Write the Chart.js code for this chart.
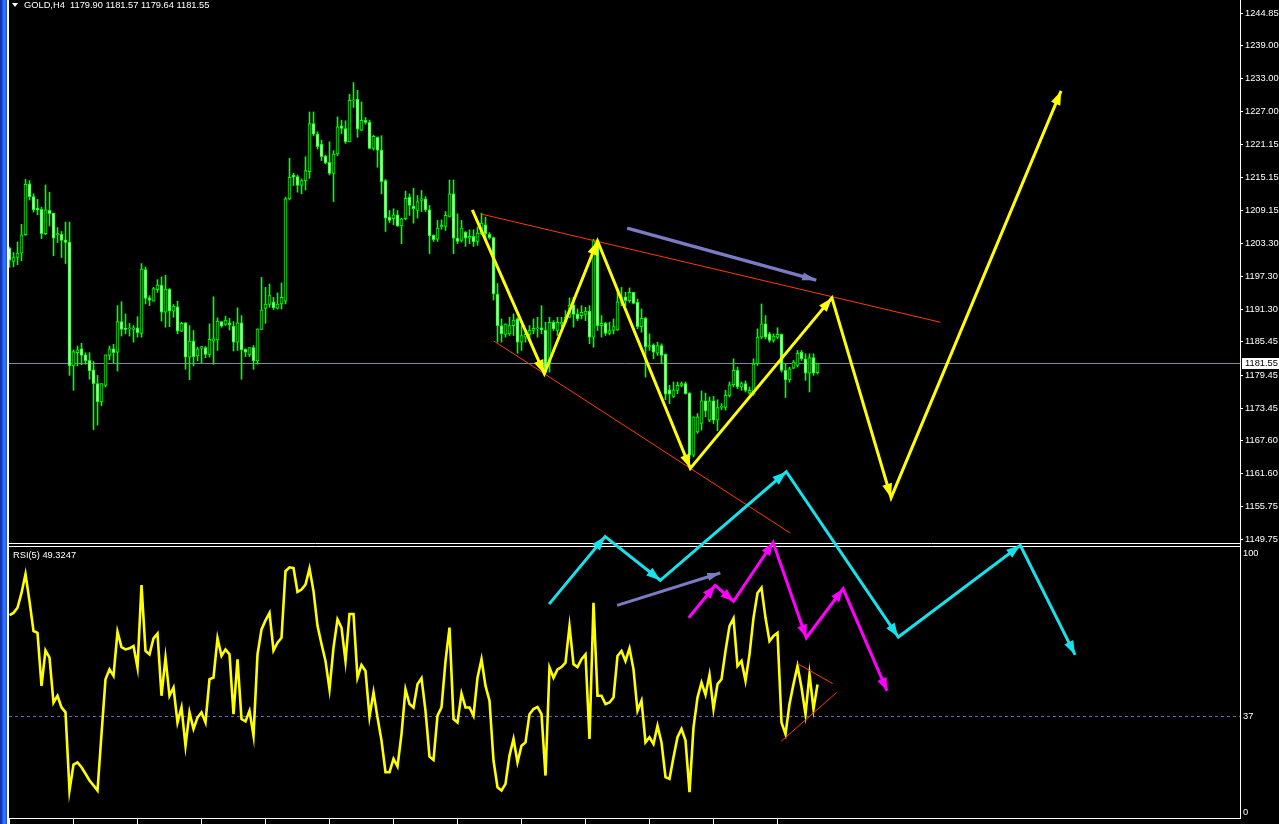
<!DOCTYPE html>
<html>
<head>
<meta charset="utf-8">
<title>GOLD,H4</title>
<script src="https://cdn.jsdelivr.net/npm/chart.js@4.4.1/dist/chart.umd.min.js"></script>
<style>
  html, body { margin: 0; padding: 0; background: #000; overflow: hidden; }
  #wrap { position: relative; width: 1279px; height: 824px; }
  #myChart { position: absolute; left: 0; top: 0; }
  #strip { position: absolute; left: 0; top: 0; width: 7px; height: 824px;
    background: linear-gradient(to right, #0a2a9a 0px, #1346d8 2px, #3a7cff 4px, #2a62f0 6px, #1848d0 7px); }
  #edge { position: absolute; left: 7px; top: 0; width: 2px; height: 824px; background: #fff; }
  .txt { position: absolute; color: #fff; font: 9.3px "Liberation Sans", Arial, sans-serif; white-space: pre; line-height: 10px; }
  #tri { position: absolute; left: 12px; top: 3px; width: 0; height: 0;
    border-left: 3px solid transparent; border-right: 3px solid transparent; border-top: 4px solid #fff; }
</style>
</head>
<body>
<div id="wrap">
  <canvas id="myChart" width="1279" height="824"></canvas>
  <div id="strip"></div>
  <div id="edge"></div>
  <div id="tri"></div>
  <div class="txt" id="head" style="left:24px;top:0px"></div>
  <div class="txt" id="rsiHead" style="left:13px;top:550px"></div>
</div>
<script>
const symbol = 'GOLD,H4';

// H4 candles, oldest first
const open = [
  1202.4, 1200.0, 1200.7, 1201.5, 1204.8, 1214.0, 1211.7, 1209.6, 1209.4, 1205.0,
  1209.2, 1208.7, 1204.8, 1204.9, 1203.9, 1203.5, 1181.1, 1183.5, 1184.2, 1183.1,
  1182.1, 1180.4, 1177.9, 1174.6, 1177.6, 1183.0, 1184.2, 1183.6, 1189.1, 1187.9,
  1187.8, 1187.7, 1188.0, 1187.0, 1198.5, 1193.4, 1192.8, 1194.9, 1195.7, 1190.8,
  1195.0, 1191.0, 1191.8, 1187.4, 1188.9, 1182.7, 1185.6, 1182.9, 1184.3, 1184.4,
  1183.2, 1185.6, 1185.8, 1189.1, 1188.6, 1188.9, 1188.3, 1185.4, 1188.9, 1184.1,
  1183.1, 1184.4, 1182.0, 1187.7, 1191.5, 1192.2, 1192.7, 1191.5, 1192.3, 1192.8,
  1211.3, 1215.6, 1215.3, 1213.7, 1214.6, 1216.2, 1224.9, 1223.0, 1221.2, 1219.0,
  1217.9, 1215.9, 1219.4, 1224.5, 1224.0, 1221.6, 1229.0, 1229.3, 1223.7, 1225.5,
  1225.1, 1220.4, 1222.4, 1220.1, 1214.6, 1208.0, 1207.7, 1208.4, 1206.4, 1207.7,
  1211.6, 1210.0, 1209.2, 1211.0, 1211.3, 1209.3, 1204.7, 1204.0, 1206.2, 1206.3,
  1208.1, 1212.2, 1204.2, 1203.8, 1205.3, 1204.2, 1204.5, 1203.6, 1205.0, 1206.6,
  1204.9, 1204.3, 1194.1, 1188.4, 1186.8, 1186.9, 1188.4, 1189.6, 1185.4, 1186.3,
  1186.8, 1187.5, 1187.8, 1188.0, 1187.6, 1181.5, 1189.0, 1187.5, 1188.7, 1189.0,
  1189.9, 1192.1, 1190.5, 1190.2, 1190.4, 1191.0, 1186.3, 1203.7, 1188.4, 1188.8,
  1187.0, 1187.5, 1187.6, 1192.6, 1193.6, 1192.9, 1194.4, 1192.6, 1188.2, 1189.7,
  1184.5, 1184.9, 1183.4, 1184.8, 1183.2, 1176.8, 1175.6, 1176.7, 1177.6, 1177.9,
  1176.2, 1165.0, 1169.2, 1170.7, 1174.8, 1171.3, 1174.8, 1171.3, 1173.6, 1173.6,
  1175.8, 1177.7, 1180.3, 1177.3, 1177.9, 1176.2, 1176.1, 1181.5, 1186.3, 1188.7,
  1186.9, 1185.7, 1186.3, 1186.8, 1180.3, 1178.6, 1180.7, 1181.2, 1183.6, 1182.4,
  1179.8, 1182.6, 1179.90
];
const high = [
  1202.6, 1201.6, 1203.5, 1206.7, 1214.8, 1214.6, 1212.2, 1211.2, 1209.8, 1213.8,
  1212.5, 1208.7, 1206.1, 1205.4, 1207.1, 1207.1, 1184.0, 1184.7, 1185.2, 1183.5,
  1183.5, 1181.9, 1179.4, 1177.9, 1183.1, 1184.7, 1185.0, 1192.0, 1192.7, 1190.5,
  1188.8, 1188.4, 1190.0, 1199.6, 1199.0, 1193.8, 1195.3, 1196.7, 1197.2, 1197.5,
  1195.1, 1192.2, 1192.8, 1189.0, 1189.0, 1188.4, 1187.5, 1184.5, 1184.6, 1184.6,
  1188.7, 1193.6, 1189.8, 1189.1, 1190.1, 1189.7, 1189.1, 1191.6, 1190.2, 1184.2,
  1184.4, 1184.8, 1187.8, 1197.1, 1195.3, 1195.9, 1193.5, 1194.3, 1196.1, 1211.6,
  1218.6, 1215.9, 1215.6, 1214.9, 1218.9, 1227.0, 1227.0, 1223.4, 1221.9, 1219.2,
  1221.6, 1220.0, 1226.1, 1225.5, 1225.4, 1230.2, 1232.3, 1230.9, 1228.8, 1226.0,
  1225.5, 1222.8, 1222.5, 1222.7, 1214.8, 1209.2, 1209.5, 1209.2, 1207.8, 1212.7,
  1212.2, 1213.2, 1211.9, 1212.8, 1211.7, 1210.1, 1204.8, 1207.4, 1207.5, 1209.0,
  1214.7, 1214.7, 1208.6, 1207.4, 1205.4, 1205.7, 1205.7, 1206.2, 1208.7, 1208.0,
  1205.2, 1204.4, 1196.0, 1189.6, 1188.7, 1189.9, 1190.5, 1189.8, 1188.4, 1187.6,
  1188.4, 1189.6, 1189.9, 1192.0, 1189.0, 1189.9, 1189.3, 1189.9, 1189.9, 1191.1,
  1193.4, 1193.5, 1191.4, 1192.0, 1191.7, 1192.0, 1204.0, 1203.8, 1190.2, 1189.0,
  1189.0, 1189.6, 1195.0, 1195.3, 1194.4, 1195.2, 1194.4, 1193.2, 1191.4, 1189.9,
  1186.9, 1185.1, 1185.4, 1185.1, 1183.3, 1177.6, 1178.2, 1178.2, 1178.2, 1178.2,
  1176.3, 1171.9, 1172.5, 1176.6, 1176.2, 1175.5, 1175.6, 1175.0, 1174.3, 1176.7,
  1178.2, 1182.4, 1180.9, 1178.2, 1178.4, 1177.3, 1182.4, 1187.8, 1192.3, 1190.2,
  1187.2, 1186.9, 1188.0, 1186.9, 1181.4, 1180.9, 1182.1, 1183.9, 1183.9, 1183.3,
  1183.3, 1183.3, 1181.57
];
const low = [
  1198.9, 1199.0, 1199.4, 1200.1, 1204.7, 1211.1, 1208.9, 1208.4, 1204.1, 1204.8,
  1206.4, 1201.0, 1203.4, 1200.7, 1199.6, 1179.4, 1176.7, 1181.1, 1181.3, 1181.4,
  1178.7, 1169.6, 1170.4, 1173.9, 1177.3, 1182.2, 1181.7, 1180.2, 1186.5, 1186.9,
  1186.5, 1185.4, 1186.3, 1186.3, 1192.3, 1192.0, 1192.8, 1194.4, 1189.2, 1188.1,
  1188.2, 1189.9, 1186.9, 1187.3, 1180.5, 1178.6, 1181.1, 1182.0, 1181.7, 1182.6,
  1182.7, 1181.4, 1183.9, 1188.1, 1188.4, 1187.6, 1183.8, 1183.9, 1178.7, 1182.8,
  1182.8, 1180.5, 1181.4, 1187.7, 1188.8, 1191.7, 1191.3, 1191.4, 1191.4, 1192.3,
  1211.1, 1213.7, 1212.5, 1212.2, 1212.9, 1215.0, 1222.7, 1220.3, 1218.2, 1217.6,
  1215.6, 1210.8, 1219.1, 1223.1, 1221.3, 1221.6, 1227.8, 1222.4, 1223.6, 1224.8,
  1220.3, 1220.1, 1217.0, 1212.2, 1205.4, 1207.0, 1206.6, 1206.3, 1203.2, 1207.5,
  1208.3, 1206.9, 1207.8, 1209.0, 1209.0, 1201.4, 1203.6, 1203.6, 1205.8, 1205.6,
  1208.0, 1201.4, 1203.2, 1203.5, 1202.7, 1203.2, 1202.7, 1202.9, 1204.8, 1203.8,
  1204.0, 1193.0, 1185.4, 1185.4, 1186.3, 1186.6, 1186.6, 1183.4, 1183.9, 1185.4,
  1185.7, 1186.9, 1186.3, 1186.9, 1179.8, 1180.0, 1187.5, 1186.6, 1188.1, 1188.7,
  1189.8, 1188.1, 1189.3, 1189.6, 1189.3, 1185.1, 1184.5, 1187.5, 1186.3, 1186.6,
  1186.7, 1186.9, 1187.5, 1192.0, 1192.0, 1192.6, 1192.3, 1187.8, 1187.2, 1179.1,
  1183.9, 1182.4, 1183.0, 1181.5, 1175.0, 1174.3, 1175.4, 1176.1, 1177.3, 1176.0,
  1164.4, 1164.7, 1168.9, 1169.5, 1171.9, 1171.0, 1170.7, 1169.4, 1173.2, 1173.1,
  1175.5, 1177.3, 1177.0, 1176.7, 1176.4, 1176.0, 1175.8, 1181.2, 1186.0, 1186.0,
  1185.4, 1185.4, 1186.0, 1180.0, 1175.4, 1178.2, 1180.6, 1180.9, 1182.1, 1178.5,
  1176.4, 1179.4, 1179.64
];
const close = [
  1200.2, 1200.7, 1201.5, 1204.8, 1213.9, 1211.7, 1209.3, 1209.3, 1205.0, 1209.3,
  1208.6, 1204.2, 1205.0, 1203.8, 1203.4, 1181.1, 1183.7, 1184.0, 1183.0, 1182.0,
  1180.2, 1177.9, 1174.6, 1177.9, 1183.1, 1184.2, 1183.5, 1189.1, 1187.7, 1187.7,
  1187.9, 1188.0, 1187.1, 1198.6, 1193.3, 1193.0, 1195.1, 1195.7, 1190.8, 1195.0,
  1191.0, 1191.9, 1187.4, 1188.8, 1182.7, 1185.6, 1182.8, 1184.2, 1184.6, 1183.2,
  1185.9, 1186.0, 1189.2, 1188.3, 1189.4, 1188.5, 1185.4, 1188.9, 1184.0, 1183.6,
  1184.4, 1182.0, 1187.8, 1191.2, 1192.3, 1193.8, 1191.6, 1192.3, 1193.5, 1211.3,
  1215.2, 1215.2, 1213.7, 1214.6, 1216.4, 1224.9, 1223.0, 1220.7, 1218.9, 1217.8,
  1215.9, 1219.4, 1224.3, 1224.0, 1221.6, 1229.1, 1229.1, 1223.9, 1225.5, 1225.1,
  1220.4, 1222.6, 1220.1, 1214.4, 1207.8, 1207.4, 1208.4, 1206.4, 1207.7, 1211.4,
  1210.1, 1209.5, 1210.8, 1211.3, 1209.3, 1204.6, 1203.9, 1206.0, 1206.5, 1208.3,
  1212.2, 1204.2, 1203.6, 1206.0, 1204.2, 1204.5, 1203.5, 1205.1, 1206.9, 1205.0,
  1204.3, 1194.1, 1188.4, 1186.9, 1188.7, 1188.4, 1189.4, 1185.4, 1186.6, 1186.8,
  1187.6, 1187.9, 1188.0, 1187.6, 1180.0, 1189.0, 1187.8, 1189.0, 1189.0, 1189.9,
  1192.1, 1190.4, 1189.6, 1190.8, 1191.0, 1186.3, 1203.7, 1188.4, 1188.8, 1187.0,
  1187.5, 1188.2, 1192.7, 1193.6, 1192.9, 1194.4, 1192.4, 1188.2, 1189.7, 1184.6,
  1184.8, 1183.6, 1184.8, 1183.0, 1176.0, 1176.0, 1176.8, 1177.6, 1177.9, 1176.1,
  1165.0, 1171.9, 1171.9, 1174.8, 1173.0, 1174.8, 1171.3, 1173.6, 1173.8, 1175.8,
  1177.7, 1180.3, 1177.3, 1177.9, 1176.7, 1176.7, 1181.5, 1186.3, 1188.7, 1186.3,
  1185.7, 1186.5, 1186.8, 1180.3, 1178.6, 1180.6, 1181.8, 1183.4, 1182.4, 1179.8,
  1182.6, 1179.8, 1181.55
];

// RSI(5) per candle
const rsi = [
  76.1, 77.0, 79.0, 84.7, 92.0, 81.5, 70.0, 69.3, 48.8, 62.5,
  59.7, 42.4, 45.0, 40.5, 38.6, 8.4, 18.4, 19.3, 17.4, 14.9,
  12.3, 10.4, 8.4, 30.2, 51.4, 55.2, 52.7, 69.7, 63.8, 62.9,
  63.3, 64.2, 55.9, 87.7, 62.3, 61.0, 67.2, 69.0, 45.0, 59.7,
  45.0, 48.2, 34.7, 40.5, 25.7, 38.6, 32.2, 36.6, 38.6, 34.7,
  51.4, 52.0, 67.2, 60.4, 62.9, 61.0, 37.9, 59.1, 36.0, 35.1,
  39.2, 29.6, 61.0, 70.6, 74.1, 77.0, 62.5, 65.5, 67.4, 93.1,
  94.6, 94.3, 85.1, 86.0, 87.9, 94.1, 85.4, 72.0, 65.0, 58.4,
  47.5, 63.6, 74.5, 71.3, 58.4, 76.6, 76.6, 52.0, 56.9, 54.6,
  36.9, 46.3, 36.6, 27.7, 15.5, 15.5, 20.6, 17.7, 30.2, 47.5,
  41.8, 40.5, 49.5, 51.8, 39.2, 21.5, 20.2, 37.3, 40.5, 58.4,
  71.3, 36.0, 34.7, 45.9, 40.5, 40.5, 37.3, 52.0, 59.1, 48.8,
  43.1, 20.0, 9.7, 8.4, 11.0, 21.9, 28.3, 19.3, 25.7, 27.0,
  37.9, 39.9, 40.7, 37.9, 14.2, 55.9, 52.0, 55.2, 56.1, 57.8,
  71.9, 57.2, 56.1, 59.1, 61.0, 28.3, 80.9, 45.0, 45.0, 41.8,
  42.4, 44.3, 60.4, 62.3, 58.4, 63.3, 55.2, 39.2, 43.1, 27.0,
  29.0, 26.4, 33.4, 27.0, 13.6, 12.9, 21.3, 29.0, 32.2, 27.7,
  7.8, 32.8, 44.3, 50.1, 45.4, 53.1, 39.9, 49.5, 51.4, 62.3,
  71.9, 74.9, 56.5, 58.4, 50.8, 61.0, 75.1, 84.7, 86.7, 75.1,
  66.1, 68.1, 69.3, 34.7, 30.2, 41.8, 49.5, 56.5, 48.2, 37.9,
  53.3, 39.9, 49.3247
];

const priceTicks = [1244.85, 1239.00, 1233.00, 1227.00, 1221.15, 1215.15, 1209.15, 1203.30, 1197.30,
  1191.30, 1185.45, 1179.45, 1173.45, 1167.60, 1161.60, 1155.75, 1149.75];
const rsiTicks = [100, 37, 0];
const rsiLevel = 37;
const timeTicks = [0, 16, 32, 48, 64, 80, 96, 112, 128, 144, 160, 176, 192];

// drawn objects: [bar index, price] on the chart, [bar index, rsi] in the indicator
const yellowWave = [[115.7, 1209.3], [133.7, 1179.7], [147.0, 1203.7], [170.2, 1162.6], [205.6, 1193.4], [220.4, 1157.3], [262.9, 1230.8]];
const upperChannel = [[118.2, 1208.5], [232.7, 1189.0]];
const lowerChannel = [[121.1, 1185.6], [195.2, 1150.9]];
const purplePrice = [[154.4, 1206.0], [201.7, 1196.6]];
const cyanWave = [[134.9, 80.4], [148.9, 106.5], [162.7, 89.6], [194.2, 131.5], [222.2, 67.7], [252.7, 103.1], [266.4, 60.8]];
const purpleRsi = [[151.9, 79.9], [177.7, 92.4]];
const magentaWave = [[169.8, 75.1], [176.4, 87.6], [181.0, 81.5], [190.9, 104.2], [199.2, 67.4], [208.4, 86.3], [219.4, 46.9]];
const rsiWedgeTop = [[197.0, 57.4], [205.8, 49.7]];
const rsiWedgeBottom = [[192.9, 27.4], [206.8, 46.3]];

// view range of both windows
const xMin = -0.125, xMax = 307.625;
const priceMin = 1099.43, priceMax = 1247.22;
const rsiMin = -2.19, rsiMax = 313.64;
const panelEdge = [1149.05, 102.8];

const last = close.length - 1;
document.getElementById('head').textContent =
  symbol + '  ' + [open, high, low, close].map(a => a[last].toFixed(2)).join(' ');
document.getElementById('rsiHead').textContent = 'RSI(5) ' + rsi[last].toFixed(4);

const labelFont = { family: '"Liberation Sans", Arial, sans-serif', size: 9.3 };
const pts = arr => arr.map(p => ({ x: p[0], y: p[1] }));
const idx = close.map((c, i) => i);

function drawLine(data, axis, color, width, extra) {
  return Object.assign({
    type: 'line', data: pts(data), yAxisID: axis, borderColor: color,
    borderWidth: width, pointRadius: 0, tension: 0, fill: false, order: 1
  }, extra || {});
}

const arrowHeads = {
  id: 'arrowHeads',
  afterDatasetsDraw(chart) {
    const c = chart.ctx;
    chart.data.datasets.forEach((ds, i) => {
      if (!ds.arrow) return;
      const p = chart.getDatasetMeta(i).data;
      const L = ds.arrow[0], W = ds.arrow[1];
      c.save();
      c.fillStyle = ds.borderColor;
      for (let k = 1; k < p.length; k++) {
        const a = p[k - 1], b = p[k];
        const ang = Math.atan2(b.y - a.y, b.x - a.x);
        const cs = Math.cos(ang), sn = Math.sin(ang);
        c.beginPath();
        c.moveTo(b.x, b.y);
        c.lineTo(b.x - L * cs + W * sn, b.y - L * sn - W * cs);
        c.lineTo(b.x - L * cs - W * sn, b.y - L * sn + W * cs);
        c.closePath();
        c.fill();
      }
      c.restore();
    });
  }
};

// the indicator axis takes no room of its own, so widen its box after layout to let labels show
const rsiLabelRoom = {
  id: 'rsiLabelRoom',
  afterLayout(chart) {
    const s = chart.scales.rsi;
    s.right = s.left + 39;
  }
};

const panelFrame = {
  id: 'panelFrame',
  beforeDatasetsDraw(chart) {
    const { ctx, chartArea, scales } = chart;
    const y1 = Math.round(scales.y.getPixelForValue(panelEdge[0])) + 0.5;
    const y2 = Math.round(scales.rsi.getPixelForValue(panelEdge[1])) + 0.5;
    ctx.save();
    ctx.strokeStyle = '#fff';
    ctx.lineWidth = 1;
    ctx.beginPath();
    ctx.moveTo(chartArea.left - 2, y1); ctx.lineTo(chartArea.right, y1);
    ctx.moveTo(chartArea.left - 2, y2); ctx.lineTo(chartArea.right, y2);
    ctx.stroke();
    ctx.restore();
  }
};

const priceBox = {
  id: 'priceBox',
  afterDraw(chart) {
    const { ctx, chartArea, scales } = chart;
    const y = Math.round(scales.y.getPixelForValue(close[last]));
    ctx.save();
    ctx.fillStyle = '#fff';
    ctx.fillRect(chartArea.right + 2, y - 5, 37, 11);
    ctx.fillStyle = '#000';
    ctx.font = labelFont.size + 'px ' + labelFont.family;
    ctx.textBaseline = 'middle';
    ctx.fillText(close[last].toFixed(2), chartArea.right + 5, y + 0.5);
    ctx.restore();
  }
};

const chart = new Chart(document.getElementById('myChart'), {
  type: 'bar',
  data: {
    datasets: [
      drawLine(yellowWave, 'y', '#ffff00', 3, { arrow: [14, 5], order: 0 }),
      drawLine(cyanWave, 'rsi', '#16e2ee', 3, { arrow: [14, 5], order: 0, clip: false }),
      drawLine(magentaWave, 'rsi', '#ff00ff', 3, { arrow: [13, 5], order: 0 }),
      drawLine(purplePrice, 'y', '#7b7bc4', 3.5, { arrow: [14, 4], order: 0 }),
      drawLine(purpleRsi, 'rsi', '#7b7bc4', 3, { arrow: [13, 4], order: 0 }),
      drawLine(upperChannel, 'y', '#ff3c00', 1),
      drawLine(lowerChannel, 'y', '#ff3c00', 1),
      drawLine(rsiWedgeTop, 'rsi', '#ff3c00', 1),
      drawLine(rsiWedgeBottom, 'rsi', '#ff3c00', 1),
      {
        type: 'line', label: 'RSI(5)', yAxisID: 'rsi',
        data: rsi.map((v, i) => ({ x: i, y: v })),
        borderColor: '#ffff00', borderWidth: 2.6, pointRadius: 0, tension: 0, order: 3
      },
      drawLine([[xMin, rsiLevel], [xMax, rsiLevel]], 'rsi', '#5f5fd0', 1, { borderDash: [3, 3], order: 8 }),
      drawLine([[xMin, close[last]], [xMax, close[last]]], 'y', '#7d8ea0', 1, { order: 8 }),
      {
        type: 'bar', label: 'body', yAxisID: 'y', grouped: false, order: 5,
        data: idx.map(i => ({ x: i, y: [Math.min(open[i], close[i]), Math.max(open[i], close[i])] })),
        backgroundColor: idx.map(i => close[i] >= open[i] ? '#000000' : '#ffffff'),
        borderColor: '#00ff00', borderWidth: 1, borderSkipped: false,
        barThickness: 3, minBarLength: 1
      },
      {
        type: 'bar', label: 'wick', yAxisID: 'y', grouped: false, order: 6,
        data: idx.map(i => ({ x: i, y: [low[i], high[i]] })),
        backgroundColor: '#00ff00', borderWidth: 0, barThickness: 1
      }
    ]
  },
  options: {
    responsive: false,
    animation: false,
    events: [],
    devicePixelRatio: 1,
    layout: { autoPadding: false, padding: { left: 9, top: 0, right: 0, bottom: 0 } },
    plugins: { legend: { display: false }, tooltip: { enabled: false } },
    scales: {
      x: {
        type: 'linear', min: xMin, max: xMax, offset: false,
        grid: { offset: false, drawOnChartArea: false, drawTicks: true, tickLength: 6, color: '#ffffff' },
        border: { display: true, color: '#ffffff', width: 1 },
        ticks: { display: false },
        afterBuildTicks: s => { s.ticks = timeTicks.map(v => ({ value: v })); }
      },
      rsi: {
        type: 'linear', position: 'right', min: rsiMin, max: rsiMax, weight: 0,
        beginAtZero: false,
        grid: { display: false, drawTicks: false },
        border: { display: false },
        ticks: { color: '#ffffff', font: labelFont, padding: 3, callback: v => String(v) },
        afterBuildTicks: s => { s.ticks = rsiTicks.map(v => ({ value: v })); },
        afterFit: s => { s.width = 0; s.paddingTop = 0; s.paddingBottom = 0; }
      },
      y: {
        type: 'linear', position: 'right', min: priceMin, max: priceMax, weight: 1,
        beginAtZero: false,
        grid: { drawOnChartArea: false, drawTicks: true, tickLength: 3, color: '#ffffff' },
        border: { display: true, color: '#ffffff', width: 1 },
        ticks: { color: '#ffffff', font: labelFont, padding: 2, callback: v => Number(v).toFixed(2) },
        afterBuildTicks: s => { s.ticks = priceTicks.map(v => ({ value: v })); },
        afterFit: s => { s.width = 39; s.paddingTop = 0; s.paddingBottom = 0; }
      }
    }
  },
  plugins: [rsiLabelRoom, panelFrame, arrowHeads, priceBox]
});
</script>
</body>
</html>
